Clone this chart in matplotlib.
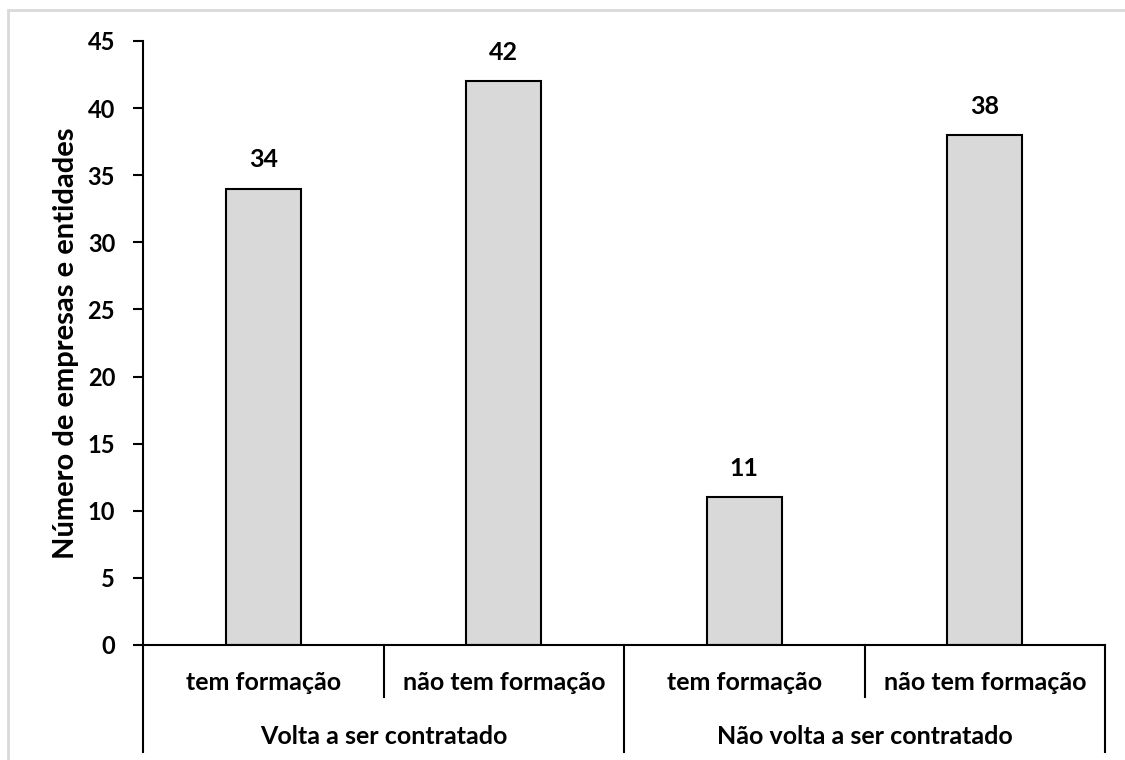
import matplotlib.pyplot as plt
from matplotlib.patches import Rectangle
import matplotlib.transforms as mtransforms

# dados
grupos = ["Volta a ser contratado", "Não volta a ser contratado"]
subcats = ["tem formação", "não tem formação", "tem formação", "não tem formação"]
valores = [34, 42, 11, 38]

FONT = "Lato"
W, H = 1125, 760

fig = plt.figure(figsize=(W / 100, H / 100), dpi=100)
fig.patches.append(Rectangle((8 / W, -0.2), 1.2, 1.2 - 10 / H, transform=fig.transFigure,
                             fill=False, edgecolor="#d9d9d9", linewidth=2))

ax = fig.add_axes([143 / W, (H - 645) / H, (1105 - 143) / W, (645 - 41) / H])
x = list(range(len(valores)))
bars = ax.bar(x, valores, width=0.31, color="#d9d9d9", edgecolor="black", linewidth=1.5)
for b, v in zip(bars, valores):
    ax.text(b.get_x() + b.get_width() / 2, v + 1.3, str(v), ha="center", va="bottom",
            fontsize=18, fontweight="bold", family=FONT)

ax.set_xlim(-0.5, len(valores) - 0.5)
ax.set_ylim(0, 45)
ax.set_yticks(range(0, 46, 5))
ax.set_xticks([])
for s in ["top", "right"]:
    ax.spines[s].set_visible(False)
ax.spines["left"].set_linewidth(1.5)
ax.spines["bottom"].set_linewidth(1.5)
ax.tick_params(axis="y", direction="out", length=7, width=1.5, pad=13, labelsize=17)
for lbl in ax.get_yticklabels():
    lbl.set_fontweight("bold")
    lbl.set_family(FONT)
ax.set_ylabel("Número de empresas e entidades", fontsize=21, fontweight="bold",
              family=FONT, labelpad=6)

# eixo de categorias em dois níveis
tr = mtransforms.blended_transform_factory(ax.transData, ax.transAxes)
y_short = -52 / 604
y_long = -107 / 604
for i in range(len(valores) + 1):
    xs = i - 0.5
    yb = y_long if i % 2 == 0 else y_short
    ax.plot([xs, xs], [0, yb], color="black", lw=1.5, transform=tr, clip_on=False)
for i, s in enumerate(subcats):
    ax.text(i, -38 / 604, s, ha="center", va="center", fontsize=18, fontweight="bold",
            family=FONT, transform=tr)
for j, g in enumerate(grupos):
    ax.text(2 * j + 0.5, -92 / 604, g, ha="center", va="center", fontsize=18,
            fontweight="bold", family=FONT, transform=tr)

fig.savefig("out.png", dpi=100)
